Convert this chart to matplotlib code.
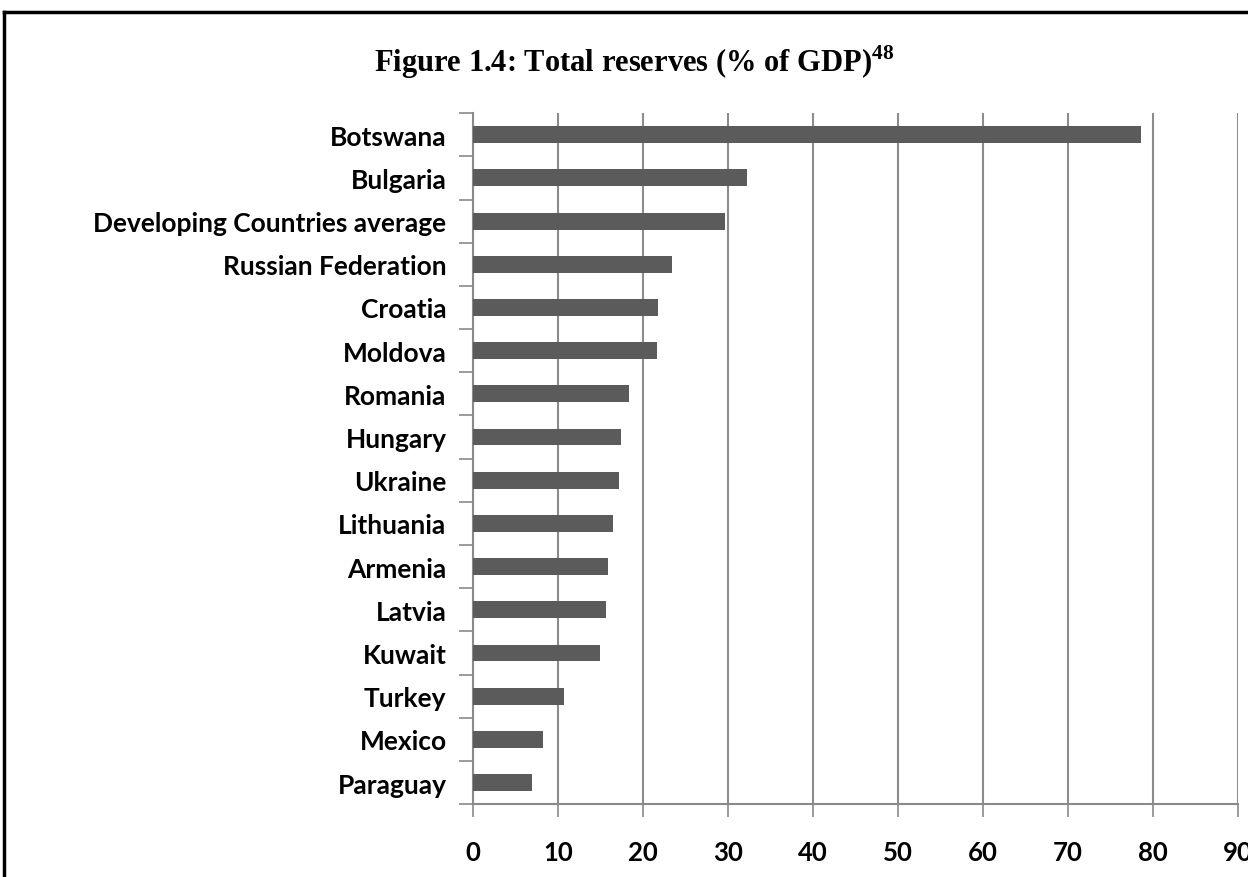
import matplotlib
matplotlib.use('Agg')
import matplotlib.pyplot as plt
from matplotlib.lines import Line2D

plt.rcParams['mathtext.fontset'] = 'custom'
plt.rcParams['mathtext.bf'] = 'Liberation Serif:bold'
plt.rcParams['mathtext.rm'] = 'Liberation Serif'

countries = ['Botswana', 'Bulgaria', 'Developing Countries average', 'Russian Federation',
             'Croatia', 'Moldova', 'Romania', 'Hungary', 'Ukraine', 'Lithuania',
             'Armenia', 'Latvia', 'Kuwait', 'Turkey', 'Mexico', 'Paraguay']
reserves = [78.6, 32.2, 29.7, 23.4, 21.8, 21.6, 18.4, 17.4, 17.2, 16.5,
            15.9, 15.7, 14.9, 10.7, 8.2, 6.9]
xticks = list(range(0, 100, 10))

fig = plt.figure(figsize=(12.48, 8.78), dpi=100)
ax = fig.add_axes([0.379, 0.083, 0.613, 0.787])

pos = list(range(len(countries)))
ax.barh(pos, reserves, height=0.39, color='#5b5b5b', zorder=3)

ax.set_xlim(0, 90)
ax.set_ylim(len(countries) - 0.5, -0.5)
ax.set_xticks(xticks)
ax.set_xticklabels([str(t) for t in xticks], fontsize=18.5, family='Lato',
                   fontweight='bold')

# category labels sit between boundary ticks
ax.set_yticks([p + 0.5 for p in pos] + [-0.5])
ax.set_yticklabels([])
ax.set_yticks(pos, minor=True)
ax.set_yticklabels(countries, minor=True, fontsize=19, family='Lato',
                   fontweight='bold')
ax.tick_params(axis='y', which='minor', length=0, pad=19)
ax.tick_params(axis='y', which='major', length=10, width=1.2, color='#8a8a8a')
ax.tick_params(axis='x', length=9, width=1.2, color='#8a8a8a', pad=17)

ax.grid(axis='x', color='#8c8c8c', linewidth=1.5, zorder=0)
for s in ['top', 'right']:
    ax.spines[s].set_visible(False)
ax.spines['left'].set_color('#8a8a8a')
ax.spines['bottom'].set_color('#8a8a8a')
ax.spines['left'].set_linewidth(1.5)
ax.spines['bottom'].set_linewidth(1.5)

fig.text(0.508, 0.929, 'Figure 1.4: Total reserves (% of GDP)$^{\\mathbf{48}}$',
         ha='center', va='center', fontsize=22, fontweight='bold',
         family='Liberation Serif')

# page frame lines (top and left)
fig.add_artist(Line2D([0.0035, 1.0], [0.985, 0.985], color='black', linewidth=2.5))
fig.add_artist(Line2D([0.0035, 0.0035], [0.0, 0.985], color='black', linewidth=2.5))

fig.savefig('out.png', dpi=100)
